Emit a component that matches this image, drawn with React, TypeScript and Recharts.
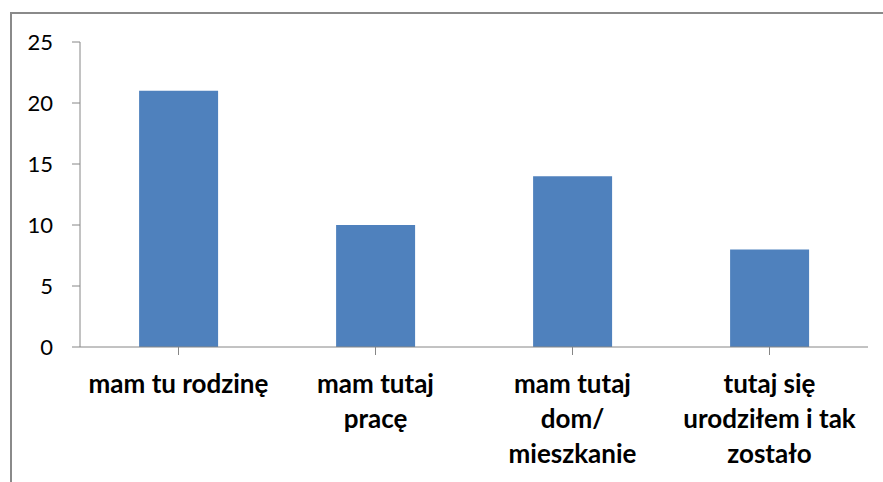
import { Bar, BarChart, XAxis, YAxis } from "recharts";

const labelLines = [
  ["mam tu rodzinę"],
  ["mam tutaj", "pracę"],
  ["mam tutaj", "dom/", "mieszkanie"],
  ["tutaj się", "urodziłem i tak", "zostało"],
];
const categories = labelLines.map((l) => l.join(" "));
const values = [21, 10, 14, 8];
const yTicks = [0, 5, 10, 15, 20, 25];

const data = categories.map((c, i) => ({ name: c, value: values[i] }));

const AXIS = "#868686";
const FONT = "Lato, Carlito, Calibri, sans-serif";

// multi-line category label, first baseline ~393, 35px leading
function CatTick(props: any) {
  const { x, y, index } = props;
  const lines = labelLines[index] || [];
  return (
    <text x={x} y={y} textAnchor="middle" fill="#000" fontFamily={FONT} fontWeight={700} fontSize={26}>
      {lines.map((l, i) => (
        <tspan key={i} x={x} dy={i === 0 ? 18 : 35}>{l}</tspan>
      ))}
    </text>
  );
}

export default function App() {
  return (
    <div style={{ position: "absolute", left: 0, top: 0, width: 883, height: 482, overflow: "hidden", background: "#fff" }}>
      <div style={{ position: "absolute", left: 10, top: 12, width: 1000, height: 1000, borderLeft: "2px solid #8a8a8a", borderTop: "2px solid #8a8a8a" }} />
      <div style={{ position: "absolute", left: 0, top: 0 }}>
        <BarChart width={883} height={482} data={data} margin={{ top: 42, right: 15, left: 20, bottom: 15 }} barCategoryGap="30%">
          <XAxis dataKey="name" stroke={AXIS} tickSize={8} tickMargin={20} interval={0} height={120} tick={<CatTick />} />
          <YAxis domain={[0, 25]} ticks={yTicks} width={60} stroke={AXIS} tickSize={8} tickMargin={19}
            tick={{ fill: "#000", fontSize: 22, fontFamily: FONT }} />
          <Bar dataKey="value" fill="#4F81BD" isAnimationActive={false} />
        </BarChart>
      </div>
    </div>
  );
}
